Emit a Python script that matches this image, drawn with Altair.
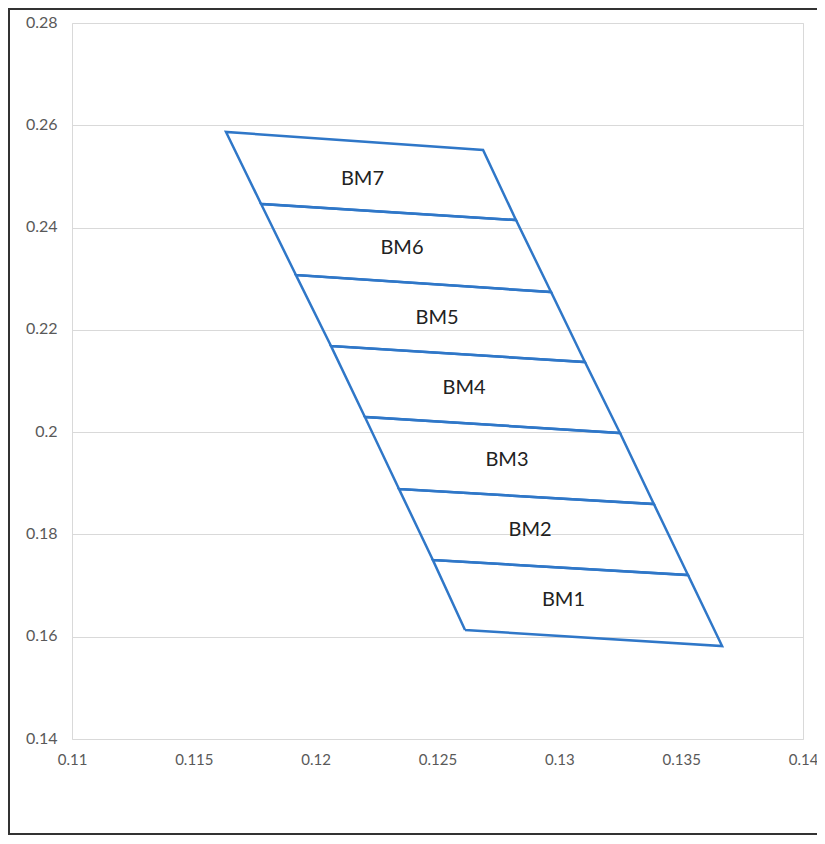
import altair as alt
import pandas as pd

# Left edge vertices (bottom of BM1 up to top of BM7)
left_x = [0.12613, 0.12481, 0.12342, 0.12202, 0.12063, 0.11919, 0.11776, 0.11632]
left_y = [0.16131, 0.17499, 0.18888, 0.20296, 0.21684, 0.23072, 0.24461, 0.25869]
# Right edge vertices
right_x = [0.13668, 0.13528, 0.13388, 0.13249, 0.13105, 0.12966, 0.12822, 0.12687]
right_y = [0.15818, 0.17206, 0.18594, 0.19983, 0.21371, 0.22740, 0.24148, 0.25517]

labels = ["BM1", "BM2", "BM3", "BM4", "BM5", "BM6", "BM7"]
label_x = [0.13017, 0.12880, 0.12785, 0.12609, 0.12498, 0.12354, 0.12192]
label_y = [0.16717, 0.18086, 0.19455, 0.20863, 0.22232, 0.23600, 0.24959]

x_ticks = [0.11, 0.115, 0.12, 0.125, 0.13, 0.135, 0.14]
y_ticks = [0.14, 0.16, 0.18, 0.2, 0.22, 0.24, 0.26, 0.28]

rows = []
for i, name in enumerate(labels):
    pts = [
        (left_x[i], left_y[i]),
        (right_x[i], right_y[i]),
        (right_x[i + 1], right_y[i + 1]),
        (left_x[i + 1], left_y[i + 1]),
        (left_x[i], left_y[i]),
    ]
    for k, (px, py) in enumerate(pts):
        rows.append({"region": name, "order": k, "x": px, "y": py})
poly = pd.DataFrame(rows)
lab = pd.DataFrame({"label": labels, "x": label_x, "y": label_y})

xscale = alt.Scale(domain=[0.11, 0.14], nice=False, zero=False)
yscale = alt.Scale(domain=[0.14, 0.28], nice=False, zero=False)

lines = alt.Chart(poly).mark_line(color="#2F77C8", strokeWidth=2.5).encode(
    x=alt.X("x:Q", scale=xscale,
            axis=alt.Axis(values=x_ticks, format="~g", title=None, grid=False,
                          ticks=False, domain=False, labelPadding=13,
                          labelFlush=False, labelFontSize=15)),
    y=alt.Y("y:Q", scale=yscale,
            axis=alt.Axis(values=y_ticks, format="~g", title=None, grid=True,
                          gridColor="#D9D9D9", ticks=False, domain=False,
                          labelPadding=15, labelFlush=False, labelOffset=-1)),
    detail="region:N",
    order="order:Q",
)

text = alt.Chart(lab).mark_text(font="Lato", fontSize=20, color="#222222").encode(
    x="x:Q", y="y:Q", text="label:N"
)

# outer frame of the picture; its right side lies outside the drawing and is clipped
frame = alt.Chart(pd.DataFrame({"k": [0]})).mark_rect(
    fill=None, fillOpacity=0, stroke="#333333", strokeWidth=2
).encode(
    x=alt.value(-63), x2=alt.value(770), y=alt.value(-14), y2=alt.value(811)
)

chart = (frame + lines + text).properties(
    width=731, height=716,
    autosize=alt.AutoSizeParams(type="none"),
    padding={"left": 64, "top": 15, "right": 14, "bottom": 96},
).configure(background="white").configure_view(
    stroke="#D9D9D9", strokeWidth=1
).configure_axis(
    labelFont="Lato", labelFontSize=16, labelColor="#595959"
)

chart.save("out.html", embed_options={"renderer": "svg", "actions": False})
